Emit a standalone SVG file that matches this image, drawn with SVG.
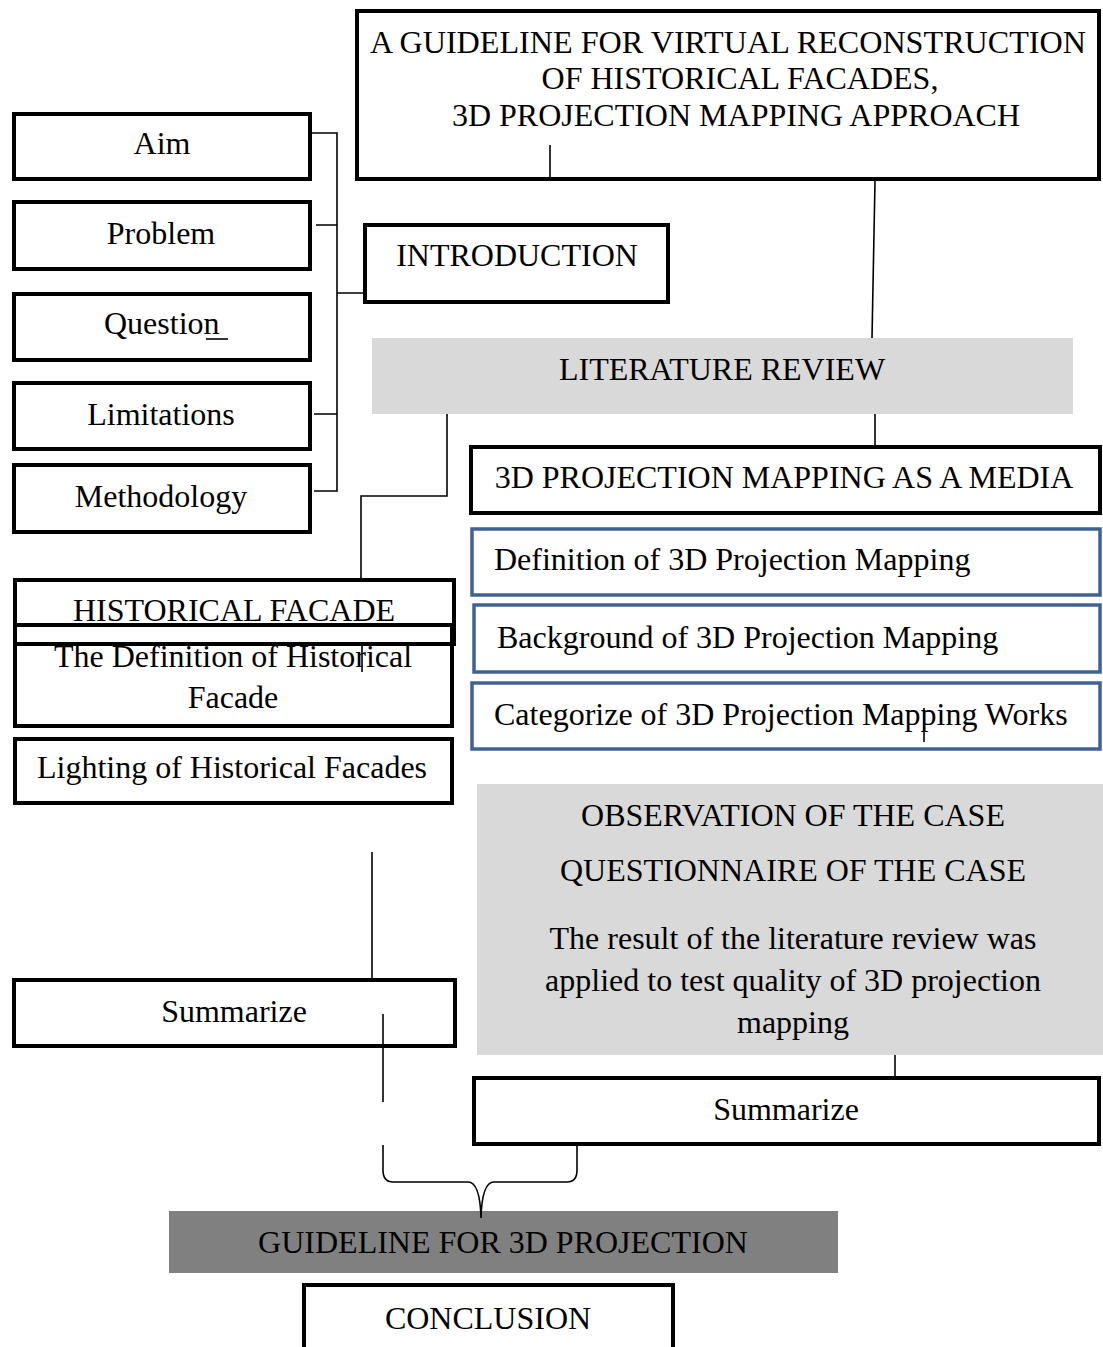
<svg xmlns="http://www.w3.org/2000/svg" width="1103" height="1347" viewBox="0 0 1103 1347">
  <style>
    .box { fill: #ffffff; stroke: #000000; stroke-width: 4; }
    .open { fill: none; stroke: #000000; stroke-width: 4; }
    .blue { fill: #ffffff; stroke: #3f6294; stroke-width: 3.5; }
    .grey { fill: #d9d9d9; stroke: none; }
    .dark { fill: #808080; stroke: none; }
    .wire { fill: none; stroke: #000000; stroke-width: 1.6; }
    text { font-family: "Liberation Serif", "Times New Roman", serif; font-size: 32px; fill: #000000; }
    .c { text-anchor: middle; }
  </style>
  <rect width="1103" height="1347" fill="#ffffff"/>

  <g id="title">
    <rect class="box" x="357" y="11" width="742" height="168"/>
    <text class="c" x="728" y="53" textLength="716" lengthAdjust="spacingAndGlyphs">A GUIDELINE FOR VIRTUAL RECONSTRUCTION</text>
    <text class="c" x="740" y="89">OF HISTORICAL FACADES,</text>
    <text class="c" x="736" y="126">3D PROJECTION MAPPING APPROACH</text>
  </g>

  <g id="aim">
    <rect class="box" x="14" y="114" width="296" height="65"/>
    <text class="c" x="162" y="154">Aim</text>
  </g>
  <g id="problem">
    <rect class="box" x="14" y="202" width="296" height="67"/>
    <text class="c" x="161" y="244">Problem</text>
  </g>
  <g id="question">
    <rect class="box" x="14" y="294" width="296" height="66"/>
    <text x="104" y="334">Question</text>
    <line x1="206" y1="339" x2="228" y2="339" stroke="#000000" stroke-width="1.6"/>
  </g>
  <g id="limitations">
    <rect class="box" x="14" y="383" width="296" height="66"/>
    <text class="c" x="161" y="425">Limitations</text>
  </g>
  <g id="methodology">
    <rect class="box" x="14" y="465" width="296" height="67"/>
    <text class="c" x="161" y="507">Methodology</text>
  </g>

  <g id="introduction">
    <rect class="box" x="365" y="225" width="303" height="77"/>
    <text class="c" x="517" y="266">INTRODUCTION</text>
  </g>

  <g id="literature-review">
    <rect class="grey" x="372" y="338" width="701" height="76"/>
    <text class="c" x="722" y="380">LITERATURE REVIEW</text>
  </g>

  <g id="projection-media">
    <rect class="box" x="471" y="447" width="629" height="66"/>
    <text class="c" x="784" y="488">3D PROJECTION MAPPING AS A MEDIA</text>
  </g>
  <g id="definition-pm">
    <rect class="blue" x="472" y="529" width="628" height="66"/>
    <text x="494" y="570">Definition of 3D Projection Mapping</text>
  </g>
  <g id="background-pm">
    <rect class="blue" x="474" y="605" width="626" height="67"/>
    <text x="497" y="648">Background of 3D Projection Mapping</text>
  </g>
  <g id="categorize-pm">
    <rect class="blue" x="472" y="683" width="628" height="66"/>
    <text x="494" y="725">Categorize of 3D Projection Mapping Works</text>
  </g>

  <g id="historical-facade">
    <rect class="box" x="15" y="580" width="439" height="64"/>
    <text class="c" x="234" y="621">HISTORICAL FACADE</text>
  </g>
  <g id="definition-facade">
    <rect class="open" x="15" y="625" width="437" height="101"/>
    <text class="c" x="233" y="667">The Definition of Historical</text>
    <text class="c" x="233" y="708">Facade</text>
  </g>
  <g id="lighting">
    <rect class="box" x="15" y="739" width="437" height="64"/>
    <text class="c" x="232" y="778">Lighting of Historical Facades</text>
  </g>

  <g id="summarize-left">
    <rect class="box" x="14" y="980" width="441" height="66"/>
    <text class="c" x="234" y="1022">Summarize</text>
  </g>

  <g id="case-study">
    <rect class="grey" x="477" y="784" width="626" height="271"/>
    <text class="c" x="793" y="826">OBSERVATION OF THE CASE</text>
    <text class="c" x="793" y="881">QUESTIONNAIRE OF THE CASE</text>
    <text class="c" x="793" y="949">The result of the literature review was</text>
    <text class="c" x="793" y="991">applied to test quality of 3D projection</text>
    <text class="c" x="793" y="1033">mapping</text>
  </g>

  <g id="summarize-right">
    <rect class="box" x="474" y="1078" width="625" height="66"/>
    <text class="c" x="786" y="1120">Summarize</text>
  </g>

  <g id="guideline">
    <rect class="dark" x="169" y="1211" width="669" height="62"/>
    <text class="c" x="503" y="1253" fill="#111111">GUIDELINE FOR 3D PROJECTION</text>
  </g>

  <g id="conclusion">
    <path class="open" d="M304,1350 V1285 H673 V1350"/>
    <text class="c" x="488" y="1329">CONCLUSION</text>
  </g>

  <!-- connectors, drawn last so they sit above the boxes -->
  <g id="connectors">
    <!-- bracket joining the introduction items -->
    <path class="wire" d="M312,133 H337 V491 H314 M316,225 H337 M314,414 H337 M337,293 H365"/>
    <!-- title to literature review -->
    <path class="wire" d="M875,181 L872,338"/>
    <path class="wire" d="M550,145 V179"/>
    <!-- literature review branches -->
    <path class="wire" d="M447,414 V496 H361 V578"/>
    <path class="wire" d="M875,414 V446"/>
    <path class="wire" d="M362,645 V672"/>
    <path class="wire" d="M924,708 V742"/>
    <!-- towards summaries -->
    <path class="wire" d="M372,852 V978"/>
    <path class="wire" d="M383,1014 V1102"/>
    <path class="wire" d="M895,1055 V1077"/>
    <!-- brace merging both summaries -->
    <path class="wire" d="M383,1145 V1170 Q383,1182 393,1182 H468 Q480,1182 481,1218 Q482,1182 494,1182 H567 Q577,1182 577,1170 V1146"/>
  </g>
</svg>
